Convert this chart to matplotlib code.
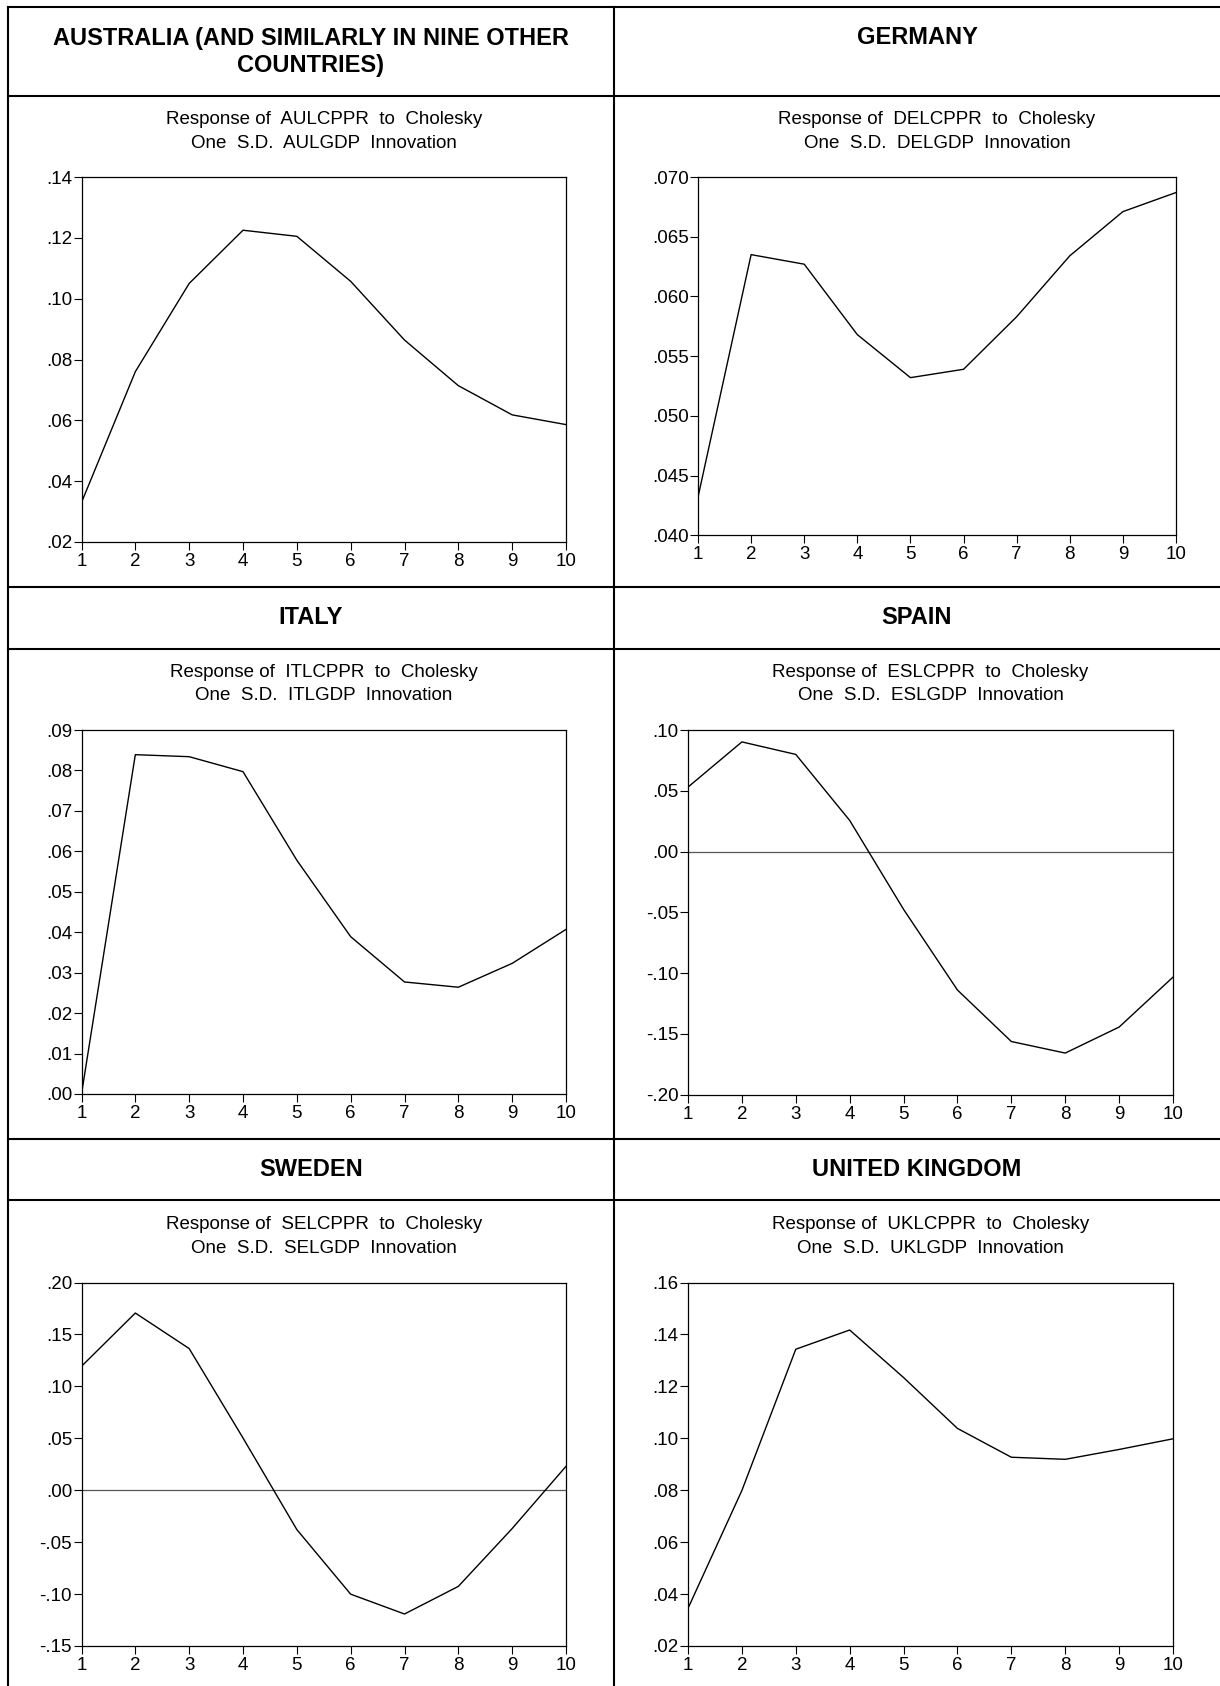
import matplotlib
matplotlib.use('Agg')
import matplotlib.pyplot as plt
from matplotlib.lines import Line2D
import numpy as np

plt.rcParams['font.family'] = ['Liberation Sans', 'DejaVu Sans']

# data (impulse responses, periods 1..10)
periods = np.arange(1, 11)
au = [0.0330, 0.0760, 0.1050, 0.1225, 0.1205, 0.1057, 0.0864, 0.0714, 0.0618, 0.0586]
de = [0.0432, 0.0635, 0.0627, 0.0568, 0.0532, 0.0539, 0.0583, 0.0634, 0.0671, 0.0687]
it = [0.0000, 0.0839, 0.0834, 0.0797, 0.0578, 0.0389, 0.0277, 0.0264, 0.0323, 0.0407]
es = [0.0530, 0.0902, 0.0799, 0.0256, -0.0476, -0.1140, -0.1564, -0.1659, -0.1445, -0.1034]
se = [0.1193, 0.1706, 0.1364, 0.0503, -0.0379, -0.1001, -0.1192, -0.0926, -0.0369, 0.0230]
uk = [0.0345, 0.0799, 0.1343, 0.1417, 0.1234, 0.1038, 0.0927, 0.0919, 0.0957, 0.0998]

au_ticks = [0.02, 0.04, 0.06, 0.08, 0.10, 0.12, 0.14]
au_labels = ['.02', '.04', '.06', '.08', '.10', '.12', '.14']
de_ticks = [0.040, 0.045, 0.050, 0.055, 0.060, 0.065, 0.070]
de_labels = ['.040', '.045', '.050', '.055', '.060', '.065', '.070']
it_ticks = [0.00, 0.01, 0.02, 0.03, 0.04, 0.05, 0.06, 0.07, 0.08, 0.09]
it_labels = ['.00', '.01', '.02', '.03', '.04', '.05', '.06', '.07', '.08', '.09']
es_ticks = [-0.20, -0.15, -0.10, -0.05, 0.00, 0.05, 0.10]
es_labels = ['-.20', '-.15', '-.10', '-.05', '.00', '.05', '.10']
se_ticks = [-0.15, -0.10, -0.05, 0.00, 0.05, 0.10, 0.15, 0.20]
se_labels = ['-.15', '-.10', '-.05', '.00', '.05', '.10', '.15', '.20']
uk_ticks = [0.02, 0.04, 0.06, 0.08, 0.10, 0.12, 0.14, 0.16]
uk_labels = ['.02', '.04', '.06', '.08', '.10', '.12', '.14', '.16']

headers = ['AUSTRALIA (AND SIMILARLY IN NINE OTHER\nCOUNTRIES)', 'GERMANY',
           'ITALY', 'SPAIN', 'SWEDEN', 'UNITED KINGDOM']
codes = ['AUL', 'DEL', 'ITL', 'ESL', 'SEL', 'UKL']

W, H = 1220, 1686
fig = plt.figure(figsize=(W / 100, H / 100), dpi=100)


def fx(x):
    return x / W


def fy(y):
    return 1 - y / H


def hline(y, x0=8, x1=W):
    fig.add_artist(Line2D([fx(x0), fx(x1)], [fy(y), fy(y)], transform=fig.transFigure,
                          color='black', lw=1.5))


def vline(x, y0=6.5, y1=H):
    fig.add_artist(Line2D([fx(x), fx(x)], [fy(y0), fy(y1)], transform=fig.transFigure,
                          color='black', lw=1.5))


# table grid
for y in [6.5, 96, 586.7, 648.5, 1138.5, 1200]:
    hline(y)
vline(8)
vline(614)

# header texts
hdr_y = [51.8, 37.5, 617.5, 617.5, 1169, 1169]
col_cx = [310.7, 917]
for i, h in enumerate(headers):
    fig.text(fx(col_cx[i % 2]), fy(hdr_y[i]), h, ha='center', va='center',
             fontsize=17, fontweight='bold', linespacing=1.25)

# axes boxes (left, right, top, bottom) in pixels
boxes = [(81.5, 566, 177, 542), (698, 1176, 177, 535.3),
         (81.5, 566, 730, 1094), (688, 1173, 730, 1094.5),
         (81.5, 566, 1282.5, 1646), (688, 1173, 1282.5, 1646)]
series = [au, de, it, es, se, uk]
ticks = [au_ticks, de_ticks, it_ticks, es_ticks, se_ticks, uk_ticks]
labels = [au_labels, de_labels, it_labels, es_labels, se_labels, uk_labels]

for i in range(6):
    l, r, t, b = boxes[i]
    ax = fig.add_axes([fx(l), fy(b), (r - l) / W, (b - t) / H])
    if ticks[i][0] < 0:
        ax.axhline(0, color='#555555', lw=0.9)
    ax.plot(periods, series[i], color='black', lw=1.0)
    ax.set_xlim(1, 10)
    ax.set_ylim(ticks[i][0], ticks[i][-1])
    ax.set_xticks(periods)
    ax.set_xticklabels([str(p) for p in periods])
    ax.set_yticks(ticks[i])
    ax.set_yticklabels(labels[i])
    ax.tick_params(axis='y', direction='out', length=6, width=0.8, pad=0.8, labelsize=13.5)
    ax.tick_params(axis='x', direction='out', length=6, width=0.8, pad=2.0, labelsize=13.5)
    for s in ax.spines.values():
        s.set_linewidth(0.9)
    cx = (l + r) / 2
    fig.text(fx(cx), fy(t - 58), 'Response of  %sCPPR  to  Cholesky' % codes[i],
             ha='center', va='center', fontsize=13.5)
    fig.text(fx(cx), fy(t - 34), 'One  S.D.  %sGDP  Innovation' % codes[i],
             ha='center', va='center', fontsize=13.5)

fig.savefig('out.png', dpi=100)
